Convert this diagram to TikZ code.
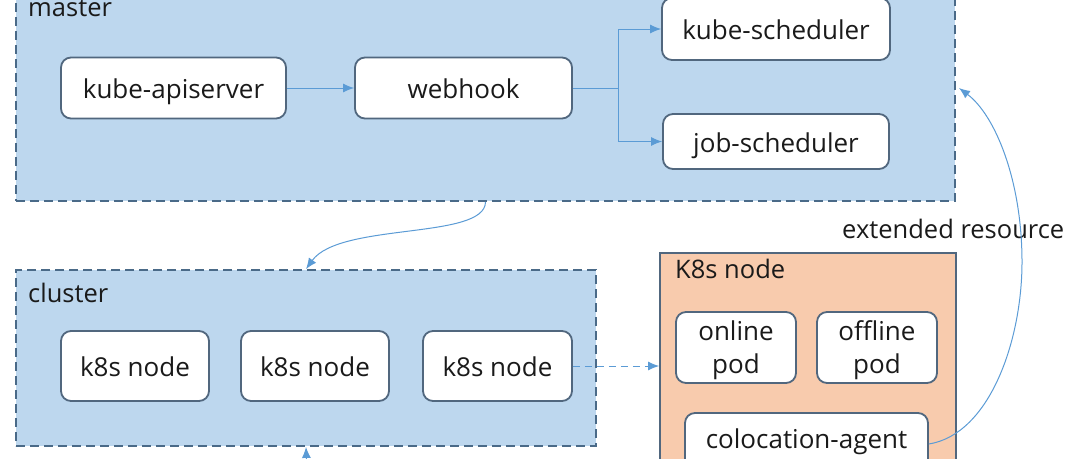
\documentclass[tikz,border=0pt]{standalone}
\usepackage{fontspec}
\setmainfont{Open Sans}
\usetikzlibrary{arrows.meta}
\definecolor{grpfill}{HTML}{BDD7EE}
\definecolor{grpline}{HTML}{4A6A88}
\definecolor{boxline}{HTML}{51677E}
\definecolor{arrowc}{HTML}{5B9BD5}
\definecolor{nodefill}{HTML}{F8CBAD}
\definecolor{txt}{HTML}{1A1A1A}
\tikzset{
  grp/.style={rectangle, draw=grpline, fill=grpfill, line width=1.8pt, dash pattern=on 9pt off 5pt, inner sep=0pt},
  nodebox/.style={rectangle, draw=boxline, fill=nodefill, line width=1.8pt, inner sep=0pt},
  comp/.style={rectangle, rounded corners=10pt, draw=boxline, fill=white, line width=1.8pt, inner sep=0pt, text=txt, font=\fontsize{26}{33}\selectfont, align=center, text height=21pt, text depth=0pt},
  pod/.style={comp, text height=51pt},
  lbl/.style={anchor=base west, inner sep=0pt, text=txt, font=\fontsize{25.5}{30}\selectfont},
  conn/.style={draw=arrowc, line width=1pt, -{Latex[length=11pt,width=9pt]}},
}
\begin{document}
\begin{tikzpicture}[x=1pt,y=-1pt]
\useasboundingbox (0,0) rectangle (1075,458);
% groups
\node[grp, minimum width=939pt, minimum height=210pt] (master) at (485.5,96) {};
\node[lbl] (masterlbl) at (28,16) {master};
\node[grp, minimum width=580pt, minimum height=176pt] (cluster) at (306,358) {};
\node[lbl] (clusterlbl) at (28,302) {cluster};
\node[nodebox, minimum width=296pt, minimum height=230pt] (k8sbox) at (808,368) {};
\node[lbl] (k8slbl) at (675,278) {K8s node};
% master components
\node[comp, minimum width=225pt, minimum height=61pt] (api) at (173.5,88) {kube-apiserver};
\node[comp, minimum width=217pt, minimum height=61pt] (webhook) at (463.5,88) {webhook};
\node[comp, minimum width=228pt, minimum height=62pt] (ks) at (776,29) {kube-scheduler};
\node[comp, minimum width=226pt, minimum height=55pt] (js) at (776,141.5) {job-scheduler};
% cluster components
\node[comp, minimum width=148pt, minimum height=70pt] (n1) at (135,366) {k8s node};
\node[comp, minimum width=148pt, minimum height=70pt] (n2) at (315,366) {k8s node};
\node[comp, minimum width=149pt, minimum height=70pt] (n3) at (497.5,366) {k8s node};
% k8s node components
\node[pod, minimum width=120pt, minimum height=71pt] (online) at (736,347.5) {online\\pod};
\node[pod, minimum width=120pt, minimum height=71pt] (offline) at (877,347.5) {offline\\pod};
\node[comp, text height=8pt, minimum width=243pt, minimum height=62pt] (agent) at (806.5,444) {colocation-agent};
% label
\node[lbl] (extlbl) at (842,238) {extended resource};
% connectors
\draw[conn] (api.east) -- (webhook.west);
\coordinate (split) at (618,88);
\draw[draw=arrowc, line width=1pt] (webhook.east) -- (split);
\draw[conn] (split) |- (ks.west);
\draw[conn] (split) |- (js.west);
\draw[conn] (master.south) .. controls (485,240) and (340,222) .. (cluster.north);
\coordinate (below) at (307,475);
\draw[conn] (below) -- (cluster.south);
\draw[conn, dashed, dash pattern=on 7pt off 5pt] (n3.east) -- (k8sbox.west |- n3.east);
\coordinate (extmid) at (1022,262);
\coordinate (extend) at (959,88);
\draw[draw=arrowc, line width=1pt] (agent.east) .. controls (990,434) and (1022,340) .. (extmid);
\draw[conn] (extmid) .. controls (1022,180) and (995,115) .. (extend);
\end{tikzpicture}
\end{document}
